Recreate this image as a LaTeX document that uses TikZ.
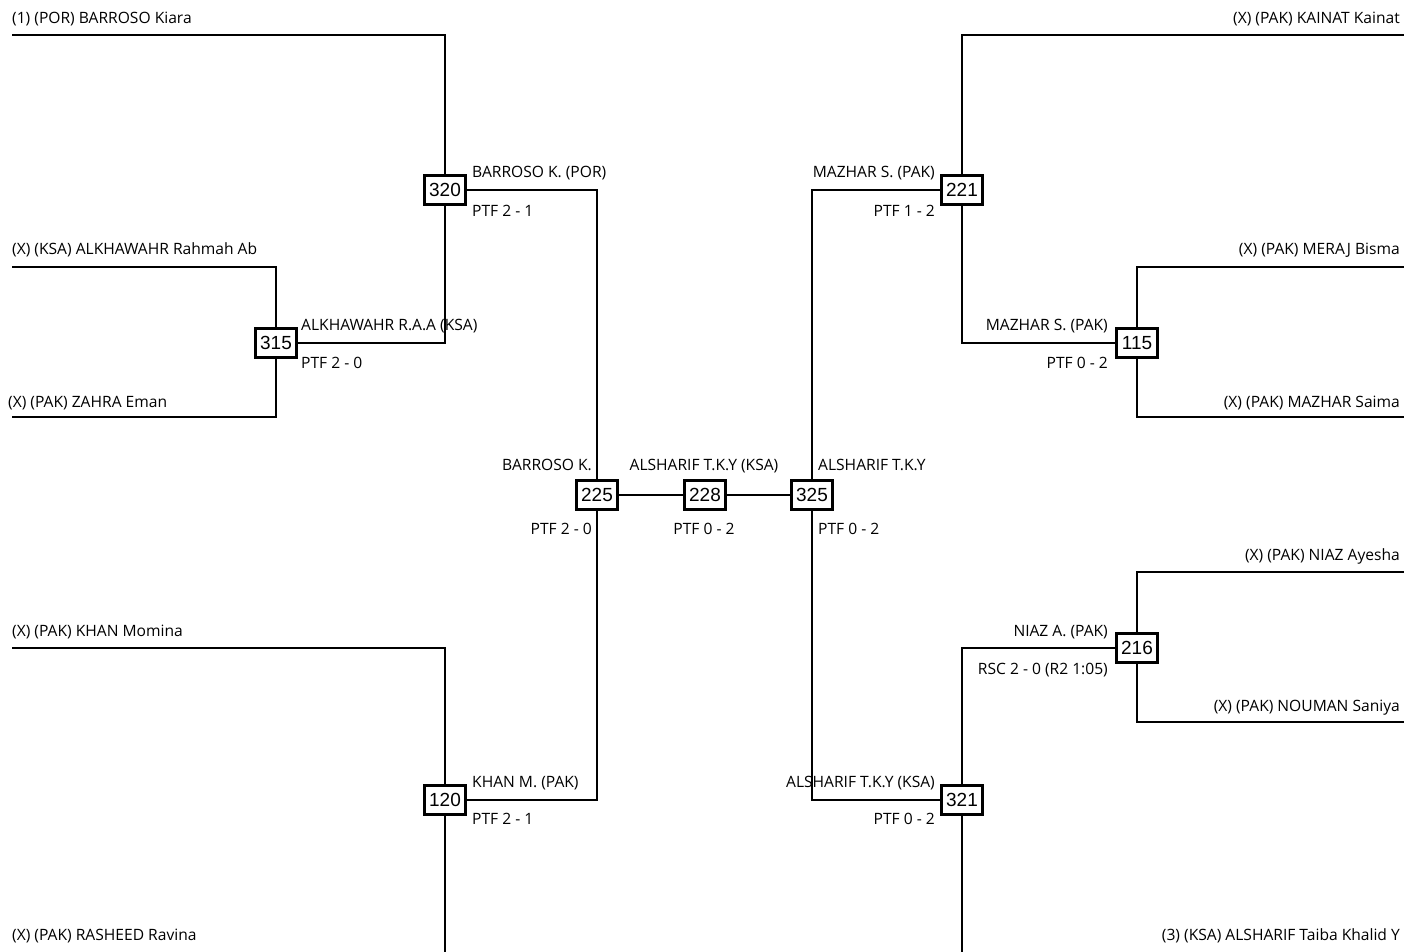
\documentclass[tikz,border=0pt]{standalone}
\usepackage{fontspec}
\setmainfont{Open Sans}
\newfontfamily\boxfont{Liberation Sans}
\usetikzlibrary{positioning}

\begin{document}
\begin{tikzpicture}[x=1pt, y=-1pt,
            bout/.style={draw, line width=3.3pt, fill=white, minimum width=41.5pt, minimum height=28.5pt, inner sep=0.5pt, font=\boxfont\fontsize{19}{19}\selectfont},
            lbl/.style={inner sep=0pt, font=\fontsize{15.6}{17}\selectfont},
            wire/.style={line width=1.6pt}]
            \useasboundingbox (0,0) rectangle (1404,951);
            % bouts
            \node[bout] (m320) at (445,190) {320};
            \node[bout] (m315) at (276,343) {315};
            \node[bout] (m120) at (445,800) {120};
            \node[bout] (m225) at (597,495) {225};
            \node[bout] (m228) at (705,495) {228};
            \node[bout] (m325) at (812,495) {325};
            \node[bout] (m221) at (962,190) {221};
            \node[bout] (m115) at (1137,343) {115};
            \node[bout] (m216) at (1137,648) {216};
            \node[bout] (m321) at (962,800) {321};
            % entry lines
            \coordinate (p1) at (12,35);
            \coordinate (p2) at (12,267);
            \coordinate (p3) at (12,417);
            \coordinate (p4) at (12,648);
            \coordinate (p5) at (12,953);
            \coordinate (q1) at (1404,35);
            \coordinate (q2) at (1404,267);
            \coordinate (q3) at (1404,417);
            \coordinate (q4) at (1404,572);
            \coordinate (q5) at (1404,722);
            \coordinate (q6) at (1404,953);
            \draw[wire] (p1) -| (m320);
            \draw[wire] (p2) -| (m315);
            \draw[wire] (p3) -| (m315);
            \draw[wire] (p4) -| (m120);
            \draw[wire] (p5) -| (m120);
            \draw[wire] (q1) -| (m221);
            \draw[wire] (q2) -| (m115);
            \draw[wire] (q3) -| (m115);
            \draw[wire] (q4) -| (m216);
            \draw[wire] (q5) -| (m216);
            \draw[wire] (q6) -| (m321);
            \draw[wire] (m315) -| (m320);
            \draw[wire] (m115) -| (m221);
            \draw[wire] (m216) -| (m321);
            \draw[wire] (m320) -| (m225);
            \draw[wire] (m225) |- (m120);
            \draw[wire] (m221) -| (m325);
            \draw[wire] (m325) |- (m321);
            \draw[wire] (m225) -- (m228);
            \draw[wire] (m228) -- (m325);
            % names
            \node[lbl, anchor=base west] (n1) at (12,23) {(1) (POR) BARROSO Kiara};
            \node[lbl, anchor=base west] (n2) at (12,254) {(X) (KSA) ALKHAWAHR Rahmah Ab};
            \node[lbl, anchor=base west] (n3) at (8,407) {(X) (PAK) ZAHRA Eman};
            \node[lbl, anchor=base west] (n4) at (12,636) {(X) (PAK) KHAN Momina};
            \node[lbl, anchor=base west] (n5) at (12,940) {(X) (PAK) RASHEED Ravina};
            \node[lbl, anchor=base east] (r1) at (1400,23) {(X) (PAK) KAINAT Kainat};
            \node[lbl, anchor=base east] (r2) at (1400,254) {(X) (PAK) MERAJ Bisma};
            \node[lbl, anchor=base east] (r3) at (1400,407) {(X) (PAK) MAZHAR Saima};
            \node[lbl, anchor=base east] (r4) at (1400,560) {(X) (PAK) NIAZ Ayesha};
            \node[lbl, anchor=base east] (r5) at (1400,711) {(X) (PAK) NOUMAN Saniya};
            \node[lbl, anchor=base east] (r6) at (1400,940) {(3) (KSA) ALSHARIF Taiba Khalid Y};
            % winners and scores
            \node[lbl, anchor=base west] (w320) at (472,177) {BARROSO K. (POR)};
            \node[lbl, anchor=base west] (s320) at (472,216) {PTF 2 - 1};
            \node[lbl, anchor=base west] (w315) at (301,330) {ALKHAWAHR R.A.A (KSA)};
            \node[lbl, anchor=base west] (s315) at (301,368) {PTF 2 - 0};
            \node[lbl, anchor=base west] (w120) at (472,787) {KHAN M. (PAK)};
            \node[lbl, anchor=base west] (s120) at (472,824) {PTF 2 - 1};
            \node[lbl, anchor=base east] (w225) at (592,470) {BARROSO K.};
            \node[lbl, anchor=base east] (s225) at (592,534) {PTF 2 - 0};
            \node[lbl, anchor=base] (w228) at (704,470) {ALSHARIF T.K.Y (KSA)};
            \node[lbl, anchor=base] (s228) at (704,534) {PTF 0 - 2};
            \node[lbl, anchor=base west] (w325) at (818,470) {ALSHARIF T.K.Y};
            \node[lbl, anchor=base west] (s325) at (818,534) {PTF 0 - 2};
            \node[lbl, anchor=base east] (w221) at (935,177) {MAZHAR S. (PAK)};
            \node[lbl, anchor=base east] (s221) at (935,216) {PTF 1 - 2};
            \node[lbl, anchor=base east] (w115) at (1108,330) {MAZHAR S. (PAK)};
            \node[lbl, anchor=base east] (s115) at (1108,368) {PTF 0 - 2};
            \node[lbl, anchor=base east] (w216) at (1108,636) {NIAZ A. (PAK)};
            \node[lbl, anchor=base east] (s216) at (1108,674) {RSC 2 - 0 (R2 1:05)};
            \node[lbl, anchor=base east] (w321) at (935,787) {ALSHARIF T.K.Y (KSA)};
            \node[lbl, anchor=base east] (s321) at (935,824) {PTF 0 - 2};
        \end{tikzpicture}
\end{document}
